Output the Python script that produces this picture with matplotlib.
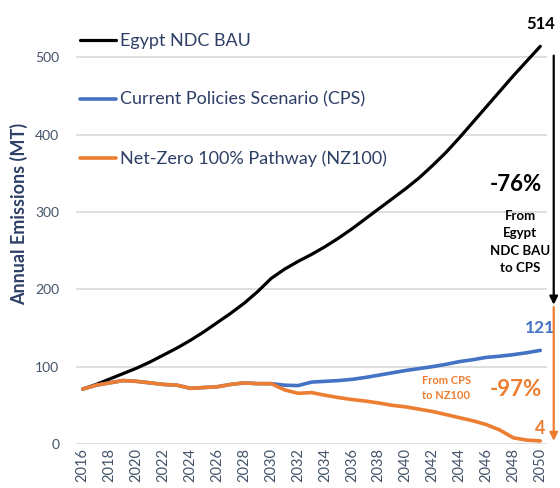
import matplotlib
matplotlib.use("Agg")
import matplotlib.pyplot as plt

years = list(range(2016, 2051))
bau = [71, 77, 84, 91, 98, 106, 115, 124, 134, 145, 157, 169, 182, 197, 214,
       226, 236, 245, 255, 266, 278, 291, 304, 317, 330, 344, 360, 377, 396,
       416, 436, 456, 476, 495, 514]
cps = [71, 76, 79, 82, 81, 79, 77, 76, 72, 73, 74, 77, 79, 78, 78,
       76, 75.5, 80, 81, 82, 83.5, 86, 89, 92, 95, 97.5, 100, 103, 106.5,
       109, 112, 113.5, 115.5, 118, 121]
nz100 = [71, 76, 79, 82, 81, 79, 77, 76, 72, 73, 74, 77, 79, 78, 78,
         70, 65.5, 66.5, 63, 60, 57.5, 55.5, 53, 50, 48, 45, 42, 38, 34,
         30, 25, 18, 8, 5, 4]
labels = ["Egypt NDC BAU", "Current Policies Scenario (CPS)", "Net-Zero 100% Pathway (NZ100)"]
yticks = [0, 100, 200, 300, 400, 500]
xticks = list(range(2016, 2051, 2))

BLACK = "#000000"
BLUE = "#4472C4"
ORANGE = "#ED7D31"
NAVY = "#2E3F66"
TICK = "#44546A"

plt.rcParams['font.family'] = ['Lato', 'DejaVu Sans']

W, H = 560, 488
fig = plt.figure(figsize=(W / 100, H / 100), dpi=100)
ax = fig.add_axes([76 / W, (H - 444) / H, (547 - 76) / W, (444 - 3) / H])
ax.set_xlim(2015.5, 2050.5)
ax.set_ylim(0, 570)

ax.plot(years, bau, color=BLACK, lw=2.3, label=labels[0], solid_capstyle='round', zorder=3)
ax.plot(years, cps, color=BLUE, lw=2.6, label=labels[1], solid_capstyle='round', zorder=3)
ax.plot(years, nz100, color=ORANGE, lw=2.6, label=labels[2], solid_capstyle='round', zorder=4)

ax.set_yticks(yticks)
ax.set_xticks(xticks)
ax.set_xticklabels([str(x) for x in xticks], rotation=90, color=TICK, fontsize=10.5)
ax.set_yticklabels([str(y) for y in yticks], color=TICK, fontsize=10)
ax.tick_params(axis='both', length=0)
ax.tick_params(axis='y', pad=12)
ax.tick_params(axis='x', pad=3)
ax.grid(axis='y', color='#D9D9D9', lw=1.2)
ax.set_axisbelow(True)
for s in ax.spines.values():
    s.set_visible(False)

ax.set_ylabel("Annual Emissions (MT)", fontsize=13, fontweight='bold', color=NAVY)
ax.yaxis.set_label_coords(-48 / 471, (444 - 214) / 441)

leg = ax.legend(loc='upper left', bbox_to_anchor=(4 / 471, (444 - 33) / 441),
                frameon=False, fontsize=13, handlelength=2.0, handletextpad=0.2,
                labelspacing=2.37, borderaxespad=0, borderpad=0)
for t in leg.get_texts():
    t.set_color(NAVY)

# annotations
ax.annotate("514", xy=(years[-1], bau[-1]), xytext=(0, 10), textcoords='offset points',
            ha='center', va='bottom', fontsize=12, fontweight='bold', color=BLACK)
ax.annotate("121", xy=(years[-1], cps[-1]), xytext=(0, 10), textcoords='offset points',
            ha='center', va='bottom', fontsize=12.5, fontweight='bold', color=BLUE)
ax.annotate("4", xy=(years[-1], nz100[-1]), xytext=(0, 3), textcoords='offset points',
            ha='center', va='bottom', fontsize=13, fontweight='bold', color=ORANGE)

ax.annotate("", xy=(2051.0, 180), xytext=(2051.0, 502),
            arrowprops=dict(arrowstyle='-|>', color=BLACK, lw=1.6, mutation_scale=12,
                            shrinkA=0, shrinkB=0), annotation_clip=False)
ax.annotate("", xy=(2051.0, 4), xytext=(2051.0, 177),
            arrowprops=dict(arrowstyle='-|>', color=ORANGE, lw=1.6, mutation_scale=12,
                            shrinkA=0, shrinkB=0), annotation_clip=False)

ax.text(2048.2, 335, "-76%", ha='center', va='center', fontsize=16, fontweight='bold', color=BLACK)
ax.text(2048.5, 261, "From\nEgypt\nNDC BAU\nto CPS", ha='center', va='center', fontsize=9.5,
        fontweight='bold', color=BLACK, linespacing=1.55)
ax.text(2048.2, 70, "-97%", ha='center', va='center', fontsize=16, fontweight='bold', color=ORANGE)
ax.text(2043.0, 72, "From CPS\nto NZ100", ha='center', va='center', fontsize=8,
        fontweight='bold', color=ORANGE, linespacing=1.4)

fig.savefig("out.png", dpi=100)
